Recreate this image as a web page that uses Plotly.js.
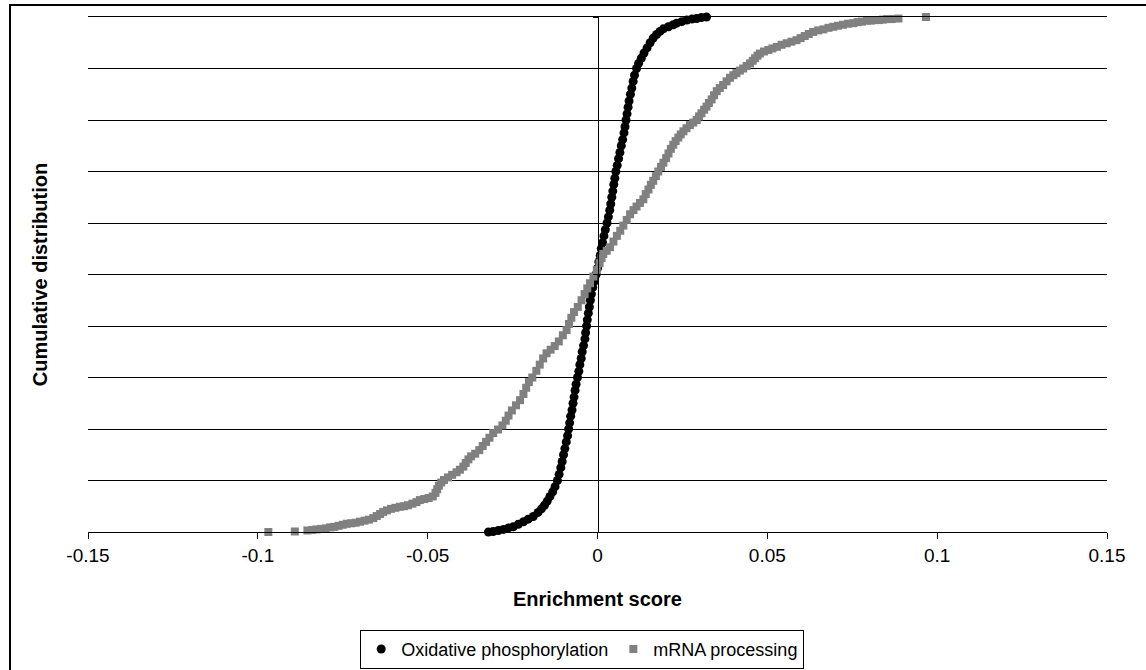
<!DOCTYPE html>
<html>
<head>
<meta charset="utf-8">
<script src="https://cdn.plot.ly/plotly-3.0.1.min.js"></script>
<style>
  html, body { margin: 0; padding: 0; background: #ffffff; overflow: hidden; }
  #chart { width: 1146px; height: 670px; }
</style>
</head>
<body>
<div id="chart"></div>
<script>
// ---- Data ----
const seriesNames = ["Oxidative phosphorylation", "mRNA processing"];

const oxY = [0,0.001,0.003,0.005,0.008,0.010,0.015,0.020,0.025,0.030,0.038,0.045,0.052,0.060,0.069,0.078,0.088,0.100,0.112,0.125,0.137,0.150,0.162,0.175,0.187,0.200,0.212,0.225,0.237,0.250,0.262,0.275,0.287,0.300,0.312,0.325,0.337,0.350,0.362,0.375,0.387,0.400,0.412,0.425,0.437,0.450,0.462,0.475,0.487,0.500,0.512,0.525,0.537,0.550,0.562,0.575,0.587,0.600,0.612,0.625,0.637,0.650,0.662,0.675,0.687,0.700,0.712,0.725,0.737,0.750,0.762,0.775,0.787,0.800,0.812,0.825,0.837,0.850,0.862,0.875,0.887,0.900,0.910,0.920,0.930,0.940,0.950,0.959,0.966,0.972,0.977,0.981,0.985,0.988,0.991,0.994,0.996,0.997,0.999,1.000];
const oxX = [-0.0321,-0.0307,-0.0292,-0.0277,-0.0262,-0.0248,-0.0233,-0.0218,-0.0204,-0.0189,-0.0175,-0.0165,-0.0156,-0.0148,-0.0140,-0.0132,-0.0125,-0.0118,-0.0113,-0.0108,-0.0104,-0.0100,-0.0096,-0.0092,-0.0088,-0.0085,-0.0082,-0.0079,-0.0075,-0.0072,-0.0069,-0.0066,-0.0063,-0.0059,-0.0055,-0.0052,-0.0048,-0.0045,-0.0041,-0.0037,-0.0035,-0.0032,-0.0030,-0.0027,-0.0024,-0.0021,-0.0018,-0.0014,-0.0009,-0.0004,0.0000,0.0004,0.0008,0.0011,0.0015,0.0019,0.0023,0.0028,0.0032,0.0036,0.0039,0.0042,0.0045,0.0048,0.0051,0.0054,0.0058,0.0062,0.0066,0.0070,0.0074,0.0078,0.0081,0.0084,0.0087,0.0090,0.0093,0.0097,0.0101,0.0105,0.0109,0.0115,0.0121,0.0129,0.0137,0.0146,0.0155,0.0164,0.0174,0.0184,0.0194,0.0209,0.0223,0.0233,0.0248,0.0263,0.0278,0.0292,0.0306,0.0321];

const mrnaX = [-0.0969,-0.0891,-0.0854,-0.0840,-0.0827,-0.0814,-0.0800,-0.0787,-0.0775,-0.0762,-0.0750,-0.0738,-0.0725,-0.0712,-0.0699,-0.0686,-0.0673,-0.0660,-0.0650,-0.0640,-0.0631,-0.0620,-0.0608,-0.0595,-0.0582,-0.0570,-0.0558,-0.0545,-0.0533,-0.0523,-0.0510,-0.0497,-0.0485,-0.0477,-0.0472,-0.0467,-0.0460,-0.0452,-0.0440,-0.0428,-0.0415,-0.0405,-0.0395,-0.0388,-0.0380,-0.0372,-0.0360,-0.0348,-0.0338,-0.0328,-0.0318,-0.0307,-0.0293,-0.0280,-0.0270,-0.0262,-0.0252,-0.0240,-0.0228,-0.0218,-0.0210,-0.0202,-0.0192,-0.0180,-0.0170,-0.0160,-0.0150,-0.0138,-0.0126,-0.0114,-0.0102,-0.0091,-0.0084,-0.0077,-0.0069,-0.0058,-0.0047,-0.0038,-0.0030,-0.0022,-0.0012,-0.0002,0.0006,0.0012,0.0017,0.0027,0.0037,0.0047,0.0057,0.0067,0.0076,0.0086,0.0096,0.0106,0.0115,0.0125,0.0135,0.0142,0.0150,0.0157,0.0164,0.0172,0.0179,0.0187,0.0194,0.0202,0.0209,0.0216,0.0223,0.0230,0.0238,0.0245,0.0253,0.0262,0.0272,0.0282,0.0292,0.0299,0.0306,0.0314,0.0321,0.0328,0.0336,0.0343,0.0351,0.0360,0.0370,0.0380,0.0390,0.0400,0.0409,0.0419,0.0429,0.0439,0.0449,0.0457,0.0464,0.0471,0.0478,0.0490,0.0503,0.0515,0.0528,0.0542,0.0557,0.0571,0.0586,0.0598,0.0610,0.0622,0.0635,0.0650,0.0665,0.0680,0.0694,0.0708,0.0723,0.0738,0.0753,0.0766,0.0779,0.0793,0.0805,0.0817,0.0829,0.0841,0.0853,0.0866,0.0886,0.0967];
const mrnaY = [0.000,0.001,0.003,0.004,0.005,0.006,0.007,0.009,0.010,0.012,0.014,0.016,0.017,0.018,0.020,0.022,0.024,0.027,0.031,0.035,0.039,0.042,0.045,0.047,0.049,0.050,0.052,0.055,0.058,0.062,0.064,0.066,0.069,0.076,0.083,0.090,0.096,0.101,0.106,0.111,0.116,0.121,0.127,0.134,0.141,0.147,0.152,0.159,0.167,0.175,0.183,0.192,0.199,0.207,0.216,0.226,0.236,0.246,0.256,0.268,0.280,0.291,0.300,0.313,0.325,0.337,0.347,0.354,0.361,0.370,0.382,0.392,0.404,0.416,0.427,0.437,0.450,0.462,0.473,0.483,0.496,0.509,0.522,0.532,0.540,0.546,0.553,0.564,0.575,0.585,0.595,0.606,0.617,0.625,0.632,0.639,0.646,0.656,0.665,0.674,0.682,0.691,0.700,0.709,0.717,0.726,0.735,0.744,0.752,0.759,0.766,0.772,0.778,0.784,0.790,0.795,0.800,0.807,0.813,0.820,0.826,0.833,0.840,0.848,0.856,0.862,0.868,0.875,0.882,0.887,0.891,0.896,0.900,0.905,0.910,0.915,0.920,0.925,0.929,0.933,0.936,0.939,0.942,0.946,0.949,0.952,0.955,0.959,0.963,0.967,0.971,0.974,0.976,0.979,0.981,0.983,0.985,0.987,0.988,0.990,0.991,0.993,0.993,0.994,0.994,0.995,0.996,0.996,0.997,1.000];

const xTickVals = [-0.15, -0.1, -0.05, 0, 0.05, 0.1, 0.15];
const xTickText = ["-0.15", "-0.1", "-0.05", "0", "0.05", "0.1", "0.15"];
const xTitle = "Enrichment score";
const yTitle = "Cumulative distribution";

// ---- Plot ----
const FONT = "Liberation Sans, Arial, sans-serif";
const W = 1146, H = 670;
const M = {l: 88, r: 39, t: 17, b: 138, autoexpand: false};
const PW = W - M.l - M.r, PH = H - M.t - M.b;
// outer chart-area frame (paper coords); runs off the right and bottom edges
const fx0 = (10 - M.l) / PW, fx1 = (W + 10 - M.l) / PW;
const fy1 = (H - M.b - 5) / PH, fy0 = (H - M.b - (H + 10)) / PH;

const traces = [
  {
    type: "scatter", mode: "markers", name: seriesNames[0],
    x: oxX, y: oxY, xaxis: "x", yaxis: "y",
    marker: {symbol: "circle", size: 9, color: "#000000"},
    cliponaxis: false
  },
  {
    type: "scatter", mode: "markers", name: seriesNames[1],
    x: mrnaX, y: mrnaY, xaxis: "x", yaxis: "y2",
    marker: {symbol: "square", size: 8, color: "#808080"},
    cliponaxis: false
  }
];

const layout = {
  width: W, height: H,
  margin: M,
  paper_bgcolor: "#ffffff",
  plot_bgcolor: "#ffffff",
  font: {family: FONT, size: 19, color: "#000000"},
  showlegend: true,
  legend: {
    orientation: "h",
    x: 0.485, xanchor: "center",
    y: -0.19, yanchor: "top",
    bordercolor: "#000000", borderwidth: 1,
    bgcolor: "#ffffff",
    font: {family: FONT, size: 18, color: "#000000"},
    itemwidth: 30
  },
  xaxis: {
    range: [-0.15, 0.15],
    tickvals: xTickVals, ticktext: xTickText,
    showline: true, linecolor: "#000000", linewidth: 1, mirror: true,
    ticks: "outside", ticklen: 6, tickcolor: "#000000", tickwidth: 1,
    showgrid: false, zeroline: false,
    tickfont: {family: FONT, size: 19, color: "#000000"},
    title: {text: xTitle, font: {family: FONT, size: 20, color: "#000000", weight: "bold"}, standoff: 27},
    automargin: false, fixedrange: true
  },
  yaxis: {
    range: [0, 1], dtick: 0.1, tick0: 0,
    showline: false, ticks: "", showticklabels: false,
    showgrid: true, gridcolor: "#000000", gridwidth: 1,
    zeroline: false,
    title: {text: yTitle, font: {family: FONT, size: 20, color: "#000000", weight: "bold"}, standoff: 34},
    automargin: false, fixedrange: true
  },
  yaxis2: {
    overlaying: "y", anchor: "free", position: 0.5, side: "left",
    range: [0, 1], dtick: 0.1, tick0: 0,
    showline: true, linecolor: "#000000", linewidth: 1,
    ticks: "outside", ticklen: 5, tickcolor: "#000000",
    showticklabels: false, showgrid: false, zeroline: false,
    automargin: false, fixedrange: true
  },
  shapes: [
    {type: "rect", xref: "paper", yref: "paper",
     x0: fx0, x1: fx1, y0: fy0, y1: fy1,
     line: {color: "#000000", width: 2}, fillcolor: "rgba(0,0,0,0)", layer: "above"}
  ]
};

Plotly.newPlot("chart", traces, layout, {displayModeBar: false, staticPlot: true});
</script>
</body>
</html>
